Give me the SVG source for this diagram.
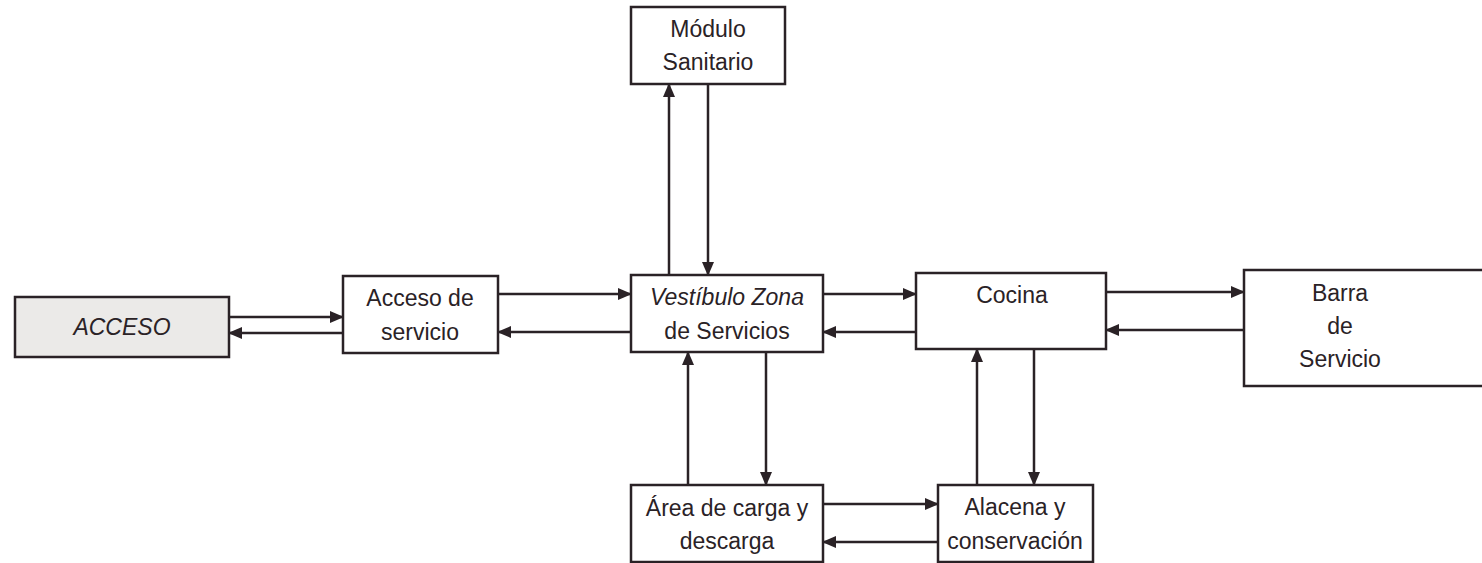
<svg xmlns="http://www.w3.org/2000/svg" width="1482" height="563" viewBox="0 0 1482 563">
<style>
.box{fill:#fff;stroke:#2a2226;stroke-width:2.5}
.gray{fill:#ebeae8}
.t{font-family:"Liberation Sans","Open Sans",sans-serif;font-size:23px;fill:#2a2226;text-anchor:middle}
.it{font-style:italic}
.c line{stroke:#2a2226;stroke-width:2.5;marker-end:url(#ah)}
</style>
<defs>
<marker id="ah" markerUnits="userSpaceOnUse" markerWidth="14" markerHeight="12" refX="13" refY="6" orient="auto">
<path d="M0,0 L14,6 L0,12 Z" fill="#2a2226"/>
</marker>
</defs>
<rect width="1482" height="563" fill="#fff"/>
<g id="acceso"><rect class="box gray" x="15" y="297" width="214" height="60"/><text class="t it" x="122" y="335">ACCESO</text></g>
<g id="acceso-servicio"><rect class="box" x="343" y="276" width="155" height="77"/><text class="t" x="420" y="306">Acceso de</text><text class="t" x="420" y="340">servicio</text></g>
<g id="modulo"><rect class="box" x="631" y="7" width="154" height="77"/><text class="t" x="708" y="37">Módulo</text><text class="t" x="708" y="70">Sanitario</text></g>
<g id="vestibulo"><rect class="box" x="631" y="275" width="192" height="77"/><text class="t it" x="727" y="305">Vestíbulo Zona</text><text class="t" x="727" y="339">de Servicios</text></g>
<g id="cocina"><rect class="box" x="916" y="273" width="190" height="76"/><text class="t" x="1012" y="303">Cocina</text></g>
<g id="barra"><rect class="box" x="1244" y="270" width="250" height="116"/><text class="t" x="1340" y="301">Barra</text><text class="t" x="1340" y="334">de</text><text class="t" x="1340" y="367">Servicio</text></g>
<g id="area"><rect class="box" x="631" y="485" width="192" height="77"/><text class="t" x="727" y="516">Área de carga y</text><text class="t" x="727" y="549">descarga</text></g>
<g id="alacena"><rect class="box" x="938" y="485" width="155" height="77"/><text class="t" x="1015" y="515">Alacena y</text><text class="t" x="1015" y="549">conservación</text></g>
<g class="c" id="connectors">
<line x1="229" y1="317" x2="343" y2="317"/>
<line x1="343" y1="333" x2="229" y2="333"/>
<line x1="498" y1="294" x2="631" y2="294"/>
<line x1="631" y1="332" x2="498" y2="332"/>
<line x1="669" y1="275" x2="669" y2="84"/>
<line x1="708" y1="84" x2="708" y2="275"/>
<line x1="823" y1="294" x2="916" y2="294"/>
<line x1="916" y1="332" x2="823" y2="332"/>
<line x1="1106" y1="292" x2="1244" y2="292"/>
<line x1="1244" y1="330" x2="1106" y2="330"/>
<line x1="688" y1="485" x2="688" y2="352"/>
<line x1="766" y1="352" x2="766" y2="485"/>
<line x1="823" y1="504" x2="938" y2="504"/>
<line x1="938" y1="542" x2="823" y2="542"/>
<line x1="977" y1="485" x2="977" y2="349"/>
<line x1="1034" y1="349" x2="1034" y2="485"/>
</g>
</svg>
